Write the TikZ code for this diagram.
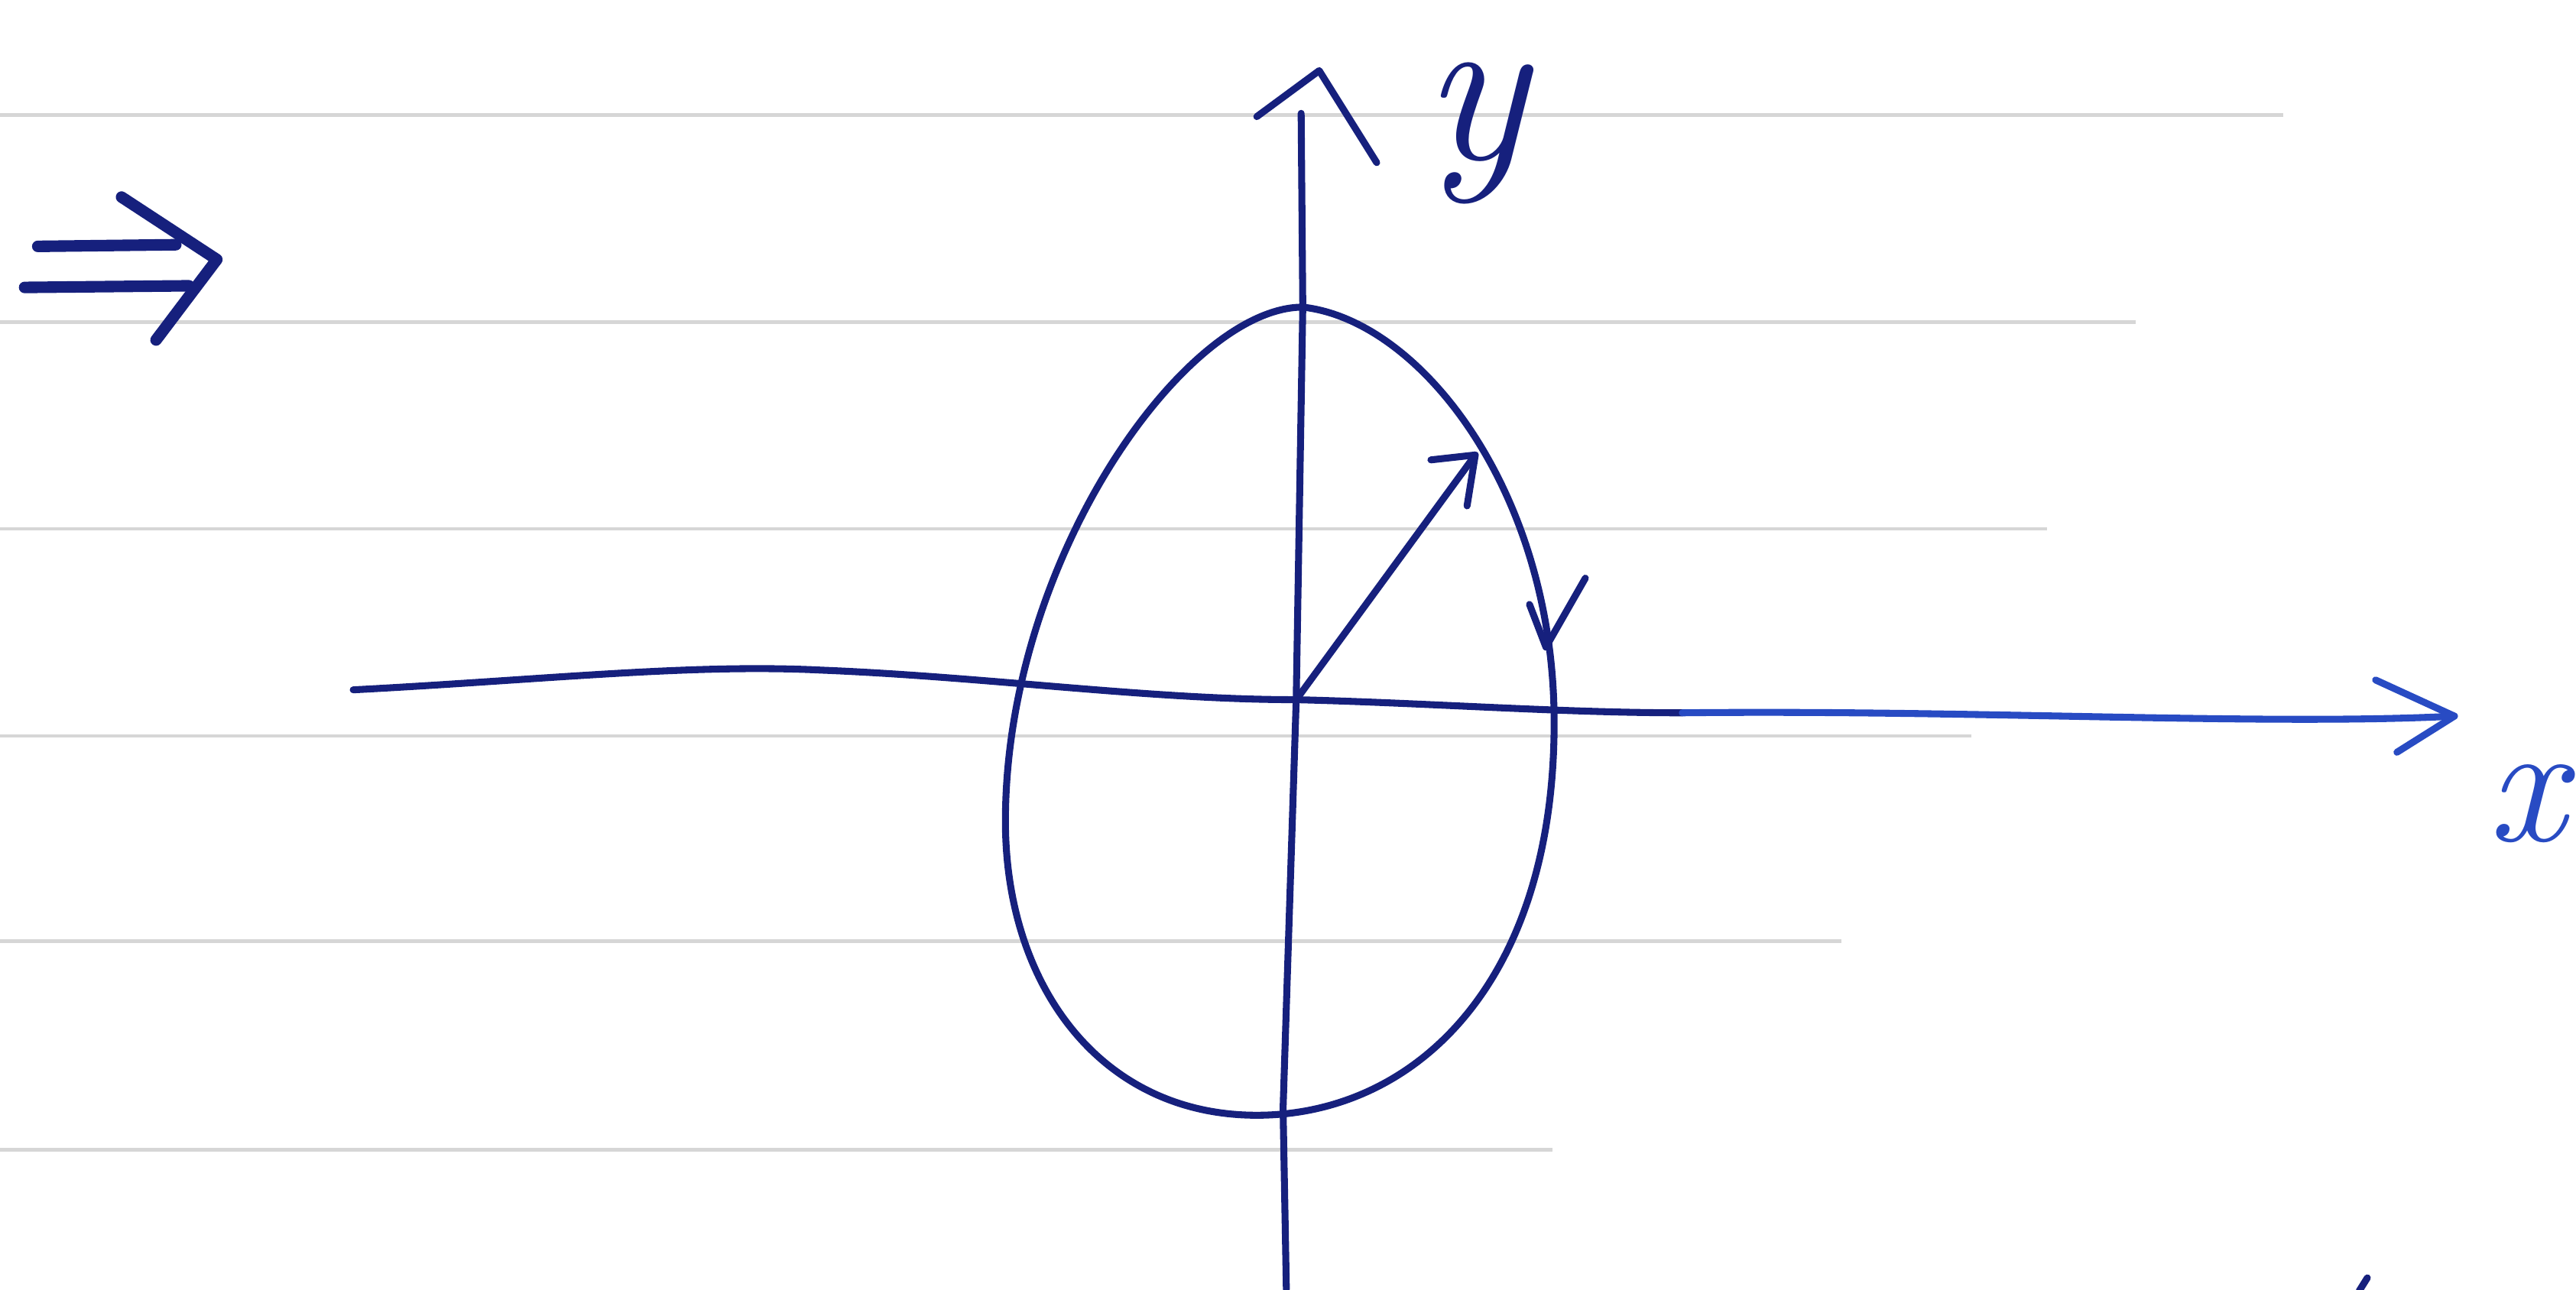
\documentclass[tikz,border=0pt]{standalone}
\definecolor{ink}{RGB}{22,32,125}
\definecolor{inkb}{RGB}{40,75,195}
\begin{document}
\begin{tikzpicture}[
  x=0.01cm, y=-0.01cm,
  rule/.style={black!16, line width=0.6pt},
  pen/.style={draw=ink, line width=1.2pt, line cap=round, line join=round},
  thickpen/.style={pen, line width=2pt},
  bluepen/.style={pen, draw=inkb},
  lbl/.style={inner sep=0pt, anchor=base, text=ink}
]
  \useasboundingbox (0,0) rectangle (1568,785);

  % ruled paper
  \draw[rule] (0,70) -- (1390,70);
  \draw[rule] (0,196) -- (1300,196);
  \draw[rule] (0,322) -- (1246,322);
  \draw[rule] (0,448) -- (1200,448);
  \draw[rule] (0,573) -- (1121,573);
  \draw[rule] (0,700) -- (945,700);

  % implication arrow
  \draw[thickpen] (23,150) -- (107,149);
  \draw[thickpen] (15,175) -- (115,174);
  \draw[thickpen] (74,120) -- (132,158) -- (95,207);

  % axes points
  \coordinate (O) at (789,426);
  \coordinate (ytop) at (792,69);
  \coordinate (ybot) at (783,785);
  \coordinate (xleft) at (215,420);
  \coordinate (xmid) at (1024,434);
  \coordinate (xtip) at (1494,436);

  % y axis
  \draw[pen] (ybot) -- (781,675) -- (O) -- (793,187) -- (ytop);
  \draw[pen] (765,71) -- (803,43) -- (838,99);

  % x axis
  \draw[pen] (xleft) .. controls (330,414) and (420,404) .. (500,408)
    .. controls (600,412) and (700,426) .. (O)
    .. controls (870,428) and (950,434) .. (xmid);
  \draw[bluepen] (xmid) .. controls (1200,432) and (1380,442) .. (xtip);
  \draw[bluepen] (1446,414) -- (xtip) -- (1459,458);

  % closed orbit
  \coordinate (top) at (793,187);
  \coordinate (right) at (946,440);
  \coordinate (bottom) at (765,679);
  \coordinate (left) at (612,500);
  \draw[pen] (top) .. controls (865,195) and (946,300) .. (right)
    .. controls (946,600) and (860,679) .. (bottom)
    .. controls (670,679) and (612,600) .. (left)
    .. controls (612,340) and (722,187) .. (top);
  \draw[pen] (931,368) -- (941,394) -- (965,352);

  % vector
  \coordinate (vtip) at (898,277);
  \draw[pen] (O) -- (vtip);
  \draw[pen] (871,280) -- (vtip) -- (893,308);

  % labels
  \node[lbl, font=\fontsize{38}{38}\selectfont\itshape] (ylab) at (898,97) {y};
  \node[lbl, text=inkb, font=\fontsize{30}{30}\selectfont\itshape] (xlab) at (1538,512) {x};

  % stray mark
  \draw[pen] (1436,786) -- (1441,778);
\end{tikzpicture}
\end{document}
